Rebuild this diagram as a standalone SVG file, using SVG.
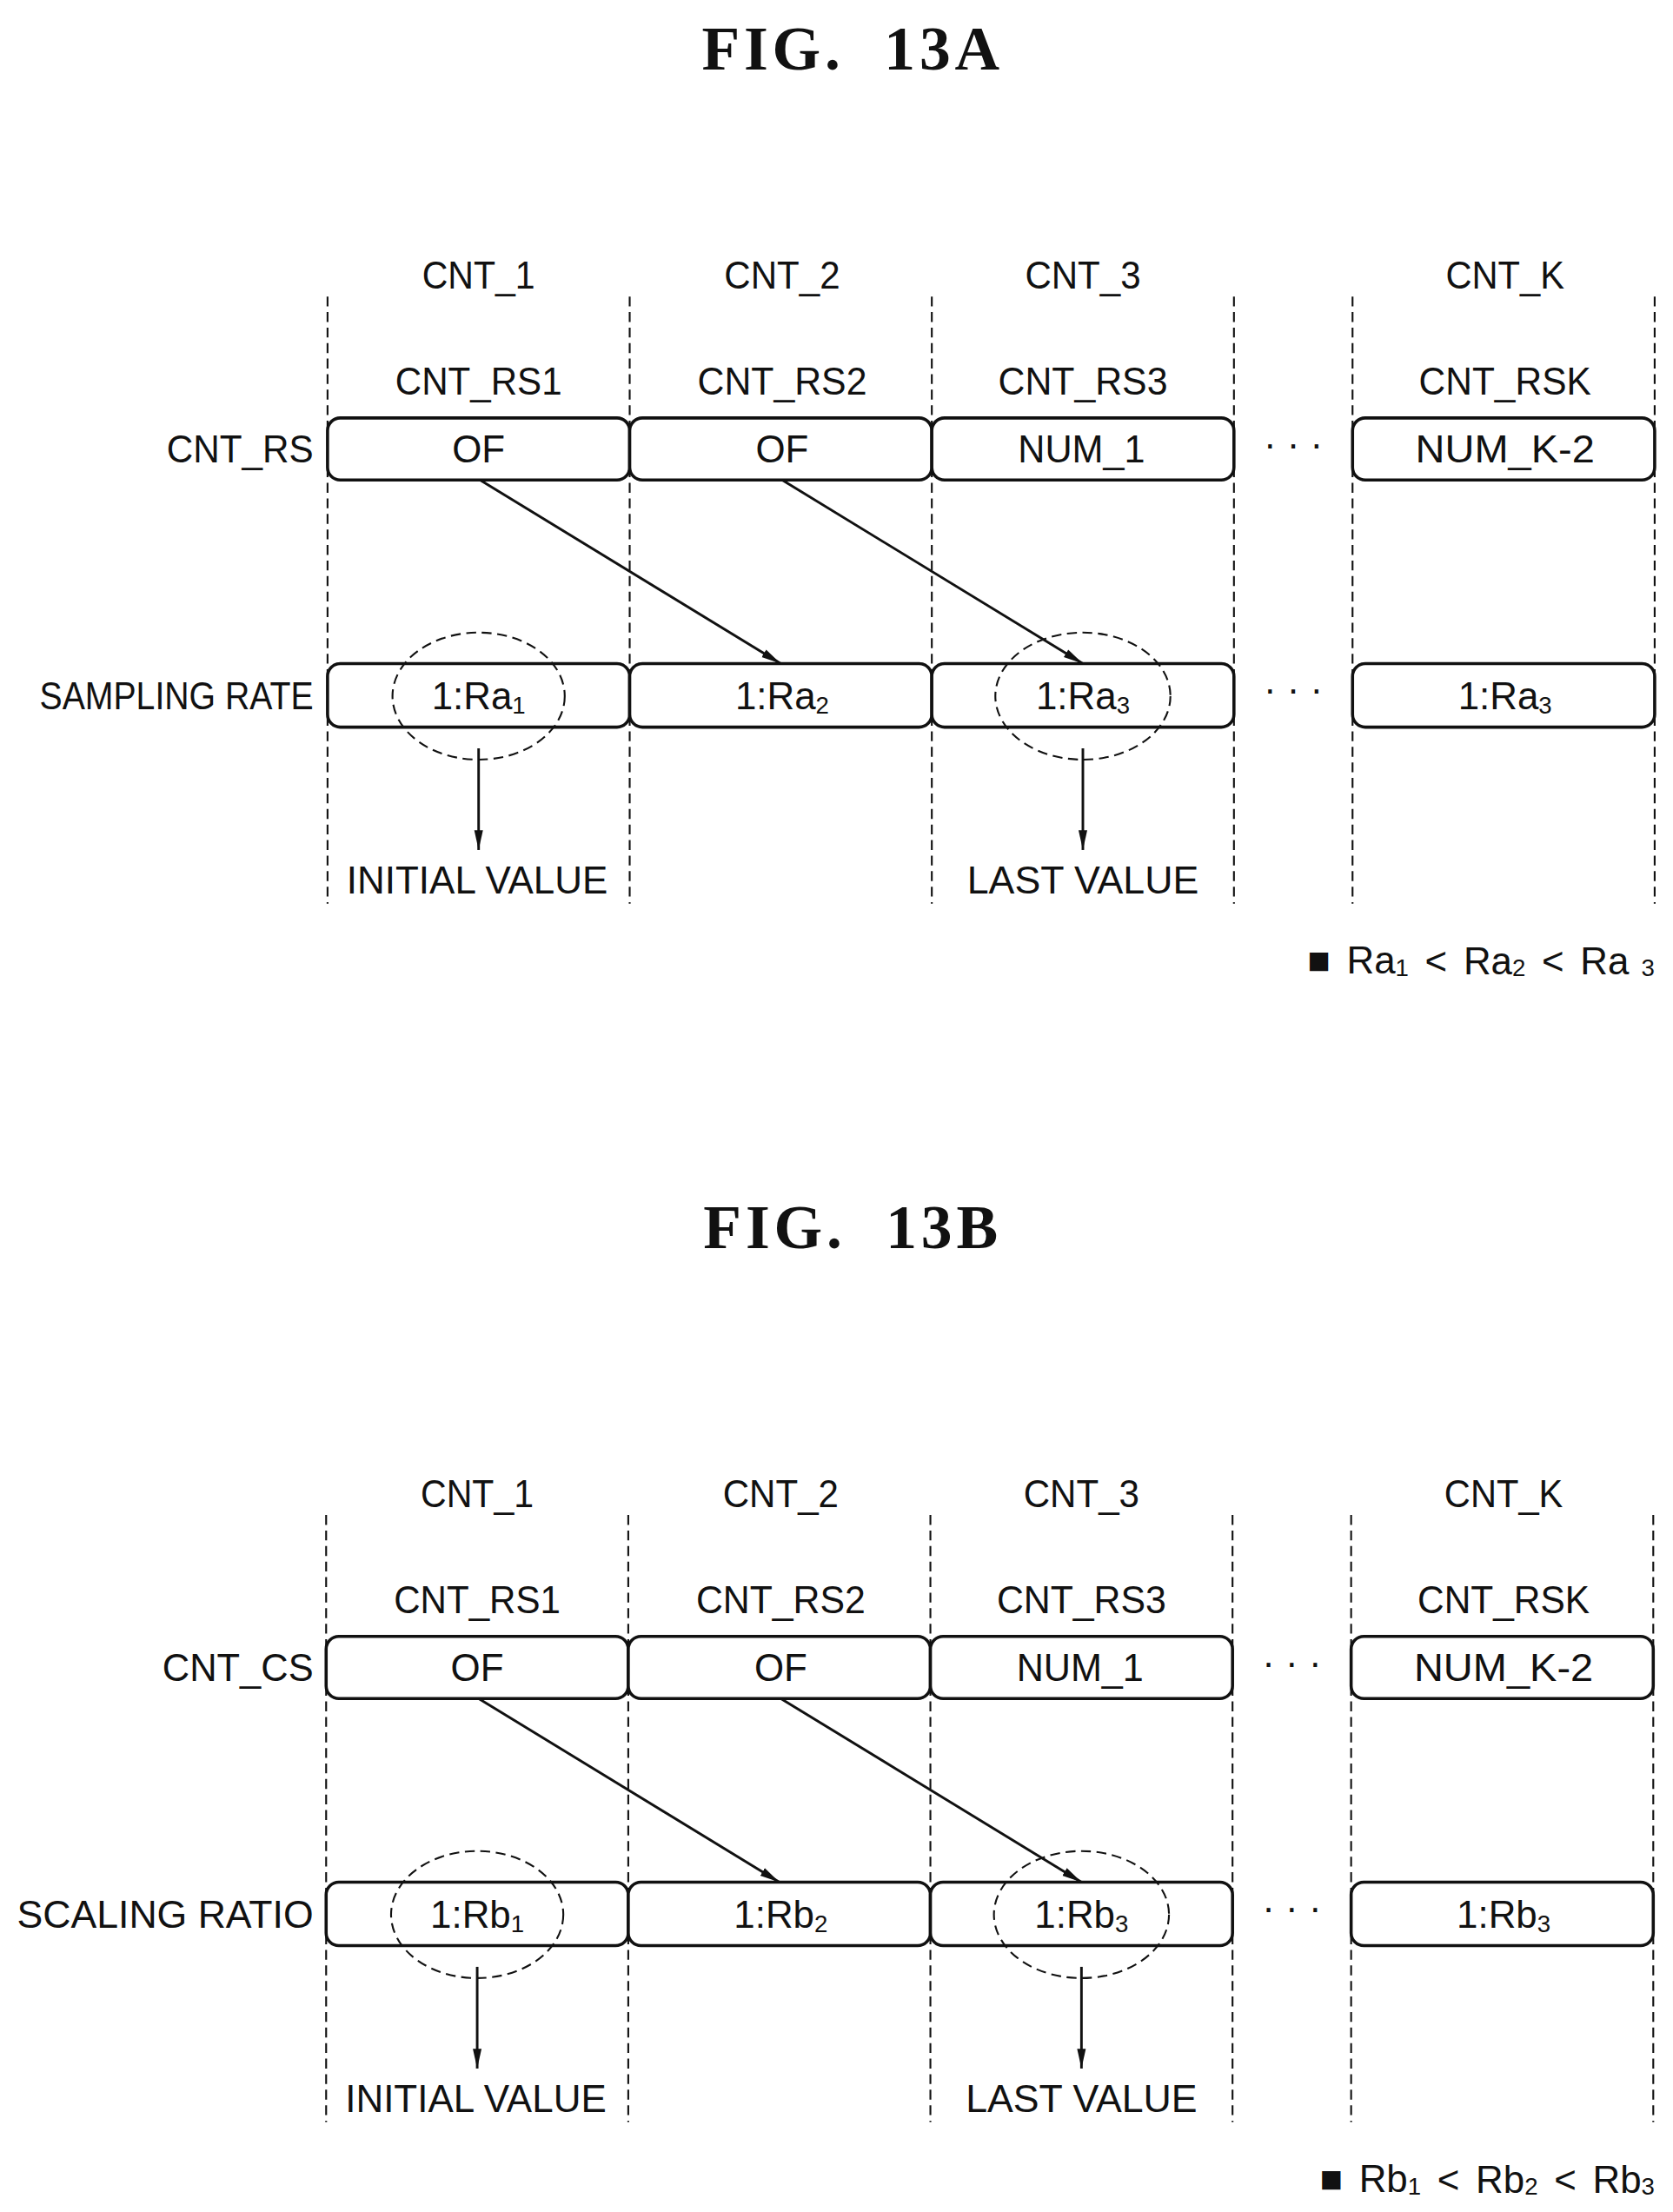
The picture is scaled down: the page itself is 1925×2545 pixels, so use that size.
<svg xmlns="http://www.w3.org/2000/svg" width="1925" height="2545" viewBox="0 0 1925 2545">
<style>
.t{font-family:"Liberation Sans",Arial,sans-serif;font-size:27px;fill:#111;text-anchor:middle;dominant-baseline:central}
.l{text-anchor:end}
.ti{font-family:"Liberation Serif","Times New Roman",serif;font-size:44px;font-weight:bold;fill:#111;text-anchor:middle;letter-spacing:3px;word-spacing:14px}
.bx{fill:#fff;stroke:#111;stroke-width:2.2}
.dl{stroke:#111;stroke-width:1.3;stroke-dasharray:7,4;fill:none}
.el{fill:none;stroke:#111;stroke-width:1.3;stroke-dasharray:7,4}
.ar{stroke:#111;stroke-width:1.8;fill:none}
</style>
<defs>
<marker id="ah2" viewBox="0 0 10 10" refX="10" refY="5" markerWidth="14" markerHeight="14" markerUnits="userSpaceOnUse" orient="auto"><path d="M0,2.8 L10,5 L0,7.2 z" fill="#111"/></marker>
<g id="panel">
<g id="dashes">
<line class="dl" x1="232" y1="210" x2="232" y2="640"/><line class="dl" x1="446" y1="210" x2="446" y2="640"/>
<line class="dl" x1="660" y1="210" x2="660" y2="640"/><line class="dl" x1="874" y1="210" x2="874" y2="640"/>
<line class="dl" x1="958" y1="210" x2="958" y2="640"/><line class="dl" x1="1172" y1="210" x2="1172" y2="640"/>
</g>
<text class="t" x="339" y="195" textLength="80" lengthAdjust="spacingAndGlyphs">CNT_1</text>
<text class="t" x="554" y="195" textLength="82" lengthAdjust="spacingAndGlyphs">CNT_2</text>
<text class="t" x="767" y="195" textLength="82" lengthAdjust="spacingAndGlyphs">CNT_3</text>
<text class="t" x="1066" y="195" textLength="84" lengthAdjust="spacingAndGlyphs">CNT_K</text>
<text class="t" x="339" y="270" textLength="118" lengthAdjust="spacingAndGlyphs">CNT_RS1</text>
<text class="t" x="554" y="270" textLength="120" lengthAdjust="spacingAndGlyphs">CNT_RS2</text>
<text class="t" x="767" y="270" textLength="120" lengthAdjust="spacingAndGlyphs">CNT_RS3</text>
<text class="t" x="1066" y="270" textLength="122" lengthAdjust="spacingAndGlyphs">CNT_RSK</text>
<g id="row1">
<rect class="bx" x="232" y="296" width="214" height="44" rx="9"/>
<rect class="bx" x="446" y="296" width="214" height="44" rx="9"/>
<rect class="bx" x="660" y="296" width="214" height="44" rx="9"/>
<rect class="bx" x="958" y="296" width="214" height="44" rx="9"/>
<text class="t" x="339" y="318">OF</text>
<text class="t" x="554" y="318">OF</text>
<text class="t" x="766" y="318" textLength="90" lengthAdjust="spacingAndGlyphs">NUM_1</text>
<text class="t" x="1066" y="318" textLength="127" lengthAdjust="spacingAndGlyphs">NUM_K-2</text>
<text class="t" x="916" y="314">· · ·</text>
</g>
<g id="row2">
<rect class="bx" x="232" y="470" width="214" height="45" rx="9"/>
<rect class="bx" x="446" y="470" width="214" height="45" rx="9"/>
<rect class="bx" x="660" y="470" width="214" height="45" rx="9"/>
<rect class="bx" x="958" y="470" width="214" height="45" rx="9"/>
<text class="t" x="916" y="488">· · ·</text>
<ellipse class="el" cx="339" cy="493" rx="61" ry="45"/>
<ellipse class="el" cx="767" cy="493" rx="62" ry="45"/>
</g>
<g id="connectors">
<line class="ar" x1="340" y1="340" x2="553" y2="470" marker-end="url(#ah2)"/>
<line class="ar" x1="554" y1="340" x2="767" y2="470" marker-end="url(#ah2)"/>
<line class="ar" x1="339" y1="530" x2="339" y2="602" marker-end="url(#ah2)"/>
<line class="ar" x1="767" y1="530" x2="767" y2="602" marker-end="url(#ah2)"/>
</g>
<text class="t" x="338" y="623" textLength="185" lengthAdjust="spacingAndGlyphs">INITIAL VALUE</text>
<text class="t" x="767" y="623" textLength="164" lengthAdjust="spacingAndGlyphs">LAST VALUE</text>
</g>
</defs>
<g transform="scale(1.6245)">
<g id="figA">
<text class="ti" x="604" y="49">FIG. 13A</text>
<use href="#panel"/>
<text class="t l" x="222" y="318" textLength="104" lengthAdjust="spacingAndGlyphs">CNT_RS</text>
<text class="t l" x="222" y="493" textLength="194" lengthAdjust="spacingAndGlyphs">SAMPLING RATE</text>
<text class="t" x="339" y="493">1:Ra<tspan font-size="17" dy="6">1</tspan></text>
<text class="t" x="554" y="493">1:Ra<tspan font-size="17" dy="6">2</tspan></text>
<text class="t" x="767" y="493">1:Ra<tspan font-size="17" dy="6">3</tspan></text>
<text class="t" x="1066" y="493">1:Ra<tspan font-size="17" dy="6">3</tspan></text>
<text class="t l" x="1172" y="680" word-spacing="4">■ Ra<tspan font-size="17" dy="5">1</tspan><tspan dy="-5"> &lt; Ra</tspan><tspan font-size="17" dy="5">2</tspan><tspan dy="-5"> &lt; Ra</tspan><tspan font-size="17" dy="5"> 3</tspan></text>
</g>
<g id="figB">
<text class="ti" x="604" y="884">FIG. 13B</text>
<g transform="translate(-1,863)"><use href="#panel"/></g>
<text class="t l" x="222" y="1181" textLength="107" lengthAdjust="spacingAndGlyphs">CNT_CS</text>
<text class="t l" x="222" y="1356" textLength="210" lengthAdjust="spacingAndGlyphs">SCALING RATIO</text>
<text class="t" x="338" y="1356">1:Rb<tspan font-size="17" dy="6">1</tspan></text>
<text class="t" x="553" y="1356">1:Rb<tspan font-size="17" dy="6">2</tspan></text>
<text class="t" x="766" y="1356">1:Rb<tspan font-size="17" dy="6">3</tspan></text>
<text class="t" x="1065" y="1356">1:Rb<tspan font-size="17" dy="6">3</tspan></text>
<text class="t l" x="1172" y="1543" word-spacing="4">■ Rb<tspan font-size="17" dy="5">1</tspan><tspan dy="-5"> &lt; Rb</tspan><tspan font-size="17" dy="5">2</tspan><tspan dy="-5"> &lt; Rb</tspan><tspan font-size="17" dy="5">3</tspan></text>
</g>
</g>
</svg>
